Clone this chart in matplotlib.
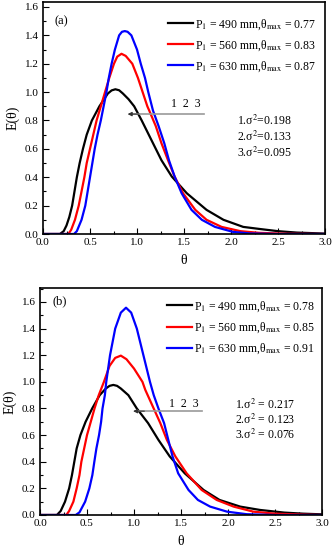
import matplotlib
matplotlib.use("Agg")
import matplotlib.pyplot as plt
from matplotlib.ticker import MultipleLocator

plt.rcParams['font.family'] = ['Liberation Serif', 'DejaVu Serif']
plt.rcParams['mathtext.fontset'] = 'stix'

# ---------------- Panel (a) data ----------------
a_black_t = [0.0, 0.18, 0.22, 0.25, 0.28, 0.31, 0.335, 0.36, 0.39, 0.425, 0.465, 0.52, 0.60, 0.69, 0.73, 0.77, 0.81, 0.85, 0.91, 0.97, 1.05, 1.17, 1.26, 1.37, 1.53, 1.74, 1.92, 2.13, 2.31, 2.5, 2.7, 3.0]
a_black_E = [0.0, 0.0, 0.02, 0.06, 0.12, 0.20, 0.30, 0.40, 0.50, 0.60, 0.70, 0.80, 0.90, 0.99, 1.012, 1.02, 1.013, 0.99, 0.95, 0.90, 0.80, 0.64, 0.52, 0.405, 0.287, 0.17, 0.10, 0.05, 0.035, 0.02, 0.01, 0.003]

a_red_t = [0.0, 0.27, 0.30, 0.34, 0.38, 0.41, 0.44, 0.465, 0.50, 0.535, 0.57, 0.615, 0.66, 0.705, 0.755, 0.79, 0.835, 0.88, 0.95, 1.01, 1.06, 1.11, 1.13, 1.20, 1.26, 1.33, 1.40, 1.49, 1.62, 1.74, 1.90, 2.1, 2.3, 2.6, 3.0]
a_red_E = [0.0, 0.0, 0.03, 0.10, 0.20, 0.30, 0.40, 0.50, 0.60, 0.70, 0.80, 0.90, 1.00, 1.10, 1.20, 1.25, 1.27, 1.255, 1.20, 1.10, 1.00, 0.90, 0.87, 0.76, 0.64, 0.52, 0.405, 0.287, 0.17, 0.10, 0.05, 0.02, 0.008, 0.002, 0.0]

a_blue_t = [0.0, 0.33, 0.36, 0.41, 0.45, 0.475, 0.50, 0.525, 0.55, 0.58, 0.615, 0.645, 0.675, 0.70, 0.73, 0.765, 0.81, 0.84, 0.87, 0.90, 0.94, 1.00, 1.04, 1.085, 1.12, 1.17, 1.23, 1.29, 1.34, 1.40, 1.475, 1.58, 1.69, 1.83, 2.02, 2.2, 2.5, 3.0]
a_blue_E = [0.0, 0.0, 0.02, 0.10, 0.20, 0.30, 0.40, 0.50, 0.60, 0.70, 0.80, 0.90, 1.00, 1.10, 1.20, 1.30, 1.40, 1.425, 1.43, 1.425, 1.40, 1.30, 1.20, 1.10, 1.00, 0.87, 0.76, 0.64, 0.52, 0.405, 0.287, 0.17, 0.10, 0.05, 0.015, 0.004, 0.0, 0.0]

a_labels = ["P$_1$ = 490 mm,θ$_{\\rm max}$ = 0.77",
            "P$_1$ = 560 mm,θ$_{\\rm max}$ = 0.83",
            "P$_1$ = 630 mm,θ$_{\\rm max}$ = 0.87"]
a_sigma = ["1.σ$^2$=0.198", "2.σ$^2$=0.133", "3.σ$^2$=0.095"]

# ---------------- Panel (b) data ----------------
b_black_t = [0.0, 0.18, 0.22, 0.266, 0.31, 0.34, 0.365, 0.39, 0.43, 0.485, 0.555, 0.635, 0.70, 0.74, 0.78, 0.82, 0.86, 0.94, 1.03, 1.15, 1.26, 1.38, 1.54, 1.74, 1.91, 2.13, 2.34, 2.6, 2.8, 3.0]
b_black_E = [0.0, 0.0, 0.03, 0.10, 0.20, 0.30, 0.40, 0.50, 0.60, 0.70, 0.80, 0.90, 0.95, 0.97, 0.977, 0.97, 0.95, 0.90, 0.80, 0.69, 0.564, 0.44, 0.313, 0.188, 0.113, 0.063, 0.038, 0.018, 0.01, 0.005]

b_red_t = [0.0, 0.28, 0.31, 0.355, 0.39, 0.42, 0.44, 0.47, 0.50, 0.54, 0.58, 0.625, 0.68, 0.74, 0.80, 0.86, 0.92, 1.00, 1.09, 1.12, 1.20, 1.28, 1.35, 1.44, 1.56, 1.72, 1.88, 2.06, 2.27, 2.5, 2.8, 3.0]
b_red_E = [0.0, 0.0, 0.03, 0.10, 0.20, 0.30, 0.40, 0.50, 0.60, 0.70, 0.80, 0.90, 1.00, 1.12, 1.18, 1.197, 1.17, 1.10, 1.00, 0.94, 0.815, 0.69, 0.564, 0.44, 0.313, 0.188, 0.113, 0.063, 0.025, 0.01, 0.003, 0.0]

b_blue_t = [0.0, 0.38, 0.42, 0.48, 0.525, 0.557, 0.578, 0.60, 0.628, 0.65, 0.665, 0.69, 0.705, 0.745, 0.80, 0.86, 0.915, 0.97, 1.03, 1.10, 1.17, 1.21, 1.26, 1.32, 1.365, 1.41, 1.47, 1.58, 1.68, 1.81, 1.99, 2.2, 2.5, 3.0]
b_blue_E = [0.0, 0.0, 0.02, 0.10, 0.20, 0.30, 0.40, 0.50, 0.60, 0.70, 0.80, 0.90, 1.00, 1.20, 1.40, 1.52, 1.557, 1.52, 1.40, 1.20, 1.00, 0.90, 0.80, 0.69, 0.564, 0.44, 0.313, 0.188, 0.113, 0.063, 0.025, 0.006, 0.0, 0.0]

b_labels = ["P$_1$ = 490 mm,θ$_{\\rm max}$ = 0.78",
            "P$_1$ = 560 mm,θ$_{\\rm max}$ = 0.85",
            "P$_1$ = 630 mm,θ$_{\\rm max}$ = 0.91"]
b_sigma = ["1.σ$^2$ = 0.217", "2.σ$^2$ = 0.123", "3.σ$^2$ = 0.076"]

colors = ["black", "red", "blue"]

W, H = 333, 550
fig = plt.figure(figsize=(W / 100, H / 100), dpi=100)

def make_ax(left_px, right_px, top_px, bottom_px):
    return fig.add_axes([left_px / W, 1 - bottom_px / H,
                         (right_px - left_px) / W, (bottom_px - top_px) / H])

def style(ax, ymax):
    ax.set_xlim(0, 3.0)
    ax.set_ylim(0, ymax)
    ax.xaxis.set_major_locator(MultipleLocator(0.5))
    ax.xaxis.set_minor_locator(MultipleLocator(0.25))
    ax.yaxis.set_major_locator(MultipleLocator(0.2))
    ax.yaxis.set_minor_locator(MultipleLocator(0.1))
    ax.xaxis.set_major_formatter(plt.FuncFormatter(lambda v, p: f"{v:.1f}"))
    ax.yaxis.set_major_formatter(plt.FuncFormatter(lambda v, p: f"{v:.1f}"))
    ax.tick_params(which='both', direction='in', top=False, right=False, labelsize=8, pad=3)
    ax.tick_params(which='major', length=4, width=0.8)
    ax.tick_params(which='minor', length=2, width=0.8)
    for s in ax.spines.values():
        s.set_linewidth(1.2)
    ax.set_xlabel("θ", fontsize=10, labelpad=5)
    ax.set_ylabel("E(θ)", fontsize=10, labelpad=4)

def panel(ax, curves, labels, sigma, tag, tag_xy, arrow, nums_xy, sig_xy, sig_dy, leg_xy):
    for (t, e), c, lab in zip(curves, colors, labels):
        ax.plot(t, e, color=c, lw=1.6, label=lab, solid_joinstyle='round')
    ax.legend(loc='upper left', bbox_to_anchor=leg_xy, frameon=False,
              fontsize=8.5, handlelength=2.1, handletextpad=0.2,
              labelspacing=0.55, borderaxespad=0, borderpad=0)
    ax.text(tag_xy[0], tag_xy[1], tag, transform=ax.transAxes, fontsize=9, va='center', ha='left')
    (x0, x1, y) = arrow
    ax.plot([x0 + 0.03, x1], [y, y], color='#999999', lw=1.2)
    ax.annotate("", xy=(x0, y), xytext=(x0 + 0.12, y),
                arrowprops=dict(arrowstyle='-|>', color='#333333', lw=0.8,
                                mutation_scale=6, shrinkA=0, shrinkB=0))
    ax.text(nums_xy[0], nums_xy[1], "1  2  3", fontsize=8.5, ha='center', va='center')
    for i, s in enumerate(sigma):
        ax.text(sig_xy[0], sig_xy[1] - i * sig_dy, s, fontsize=8.5, ha='left', va='center')

ax_a = make_ax(43, 325, 2, 234)
style(ax_a, 1.635)
panel(ax_a, [(a_black_t, a_black_E), (a_red_t, a_red_E), (a_blue_t, a_blue_E)],
      a_labels, a_sigma, "(a)", (0.04, 0.915), (0.90, 1.71, 0.845), (1.52, 0.915),
      (2.06, 0.80), 0.115, (0.443, 0.935))

ax_b = make_ax(40, 322, 288, 515)
style(ax_b, 1.705)
panel(ax_b, [(b_black_t, b_black_E), (b_red_t, b_red_E), (b_blue_t, b_blue_E)],
      b_labels, b_sigma, "(b)", (0.043, 0.94), (0.99, 1.72, 0.78), (1.53, 0.83),
      (2.07, 0.83), 0.115, (0.45, 0.95))

fig.savefig("out.png", dpi=100)
